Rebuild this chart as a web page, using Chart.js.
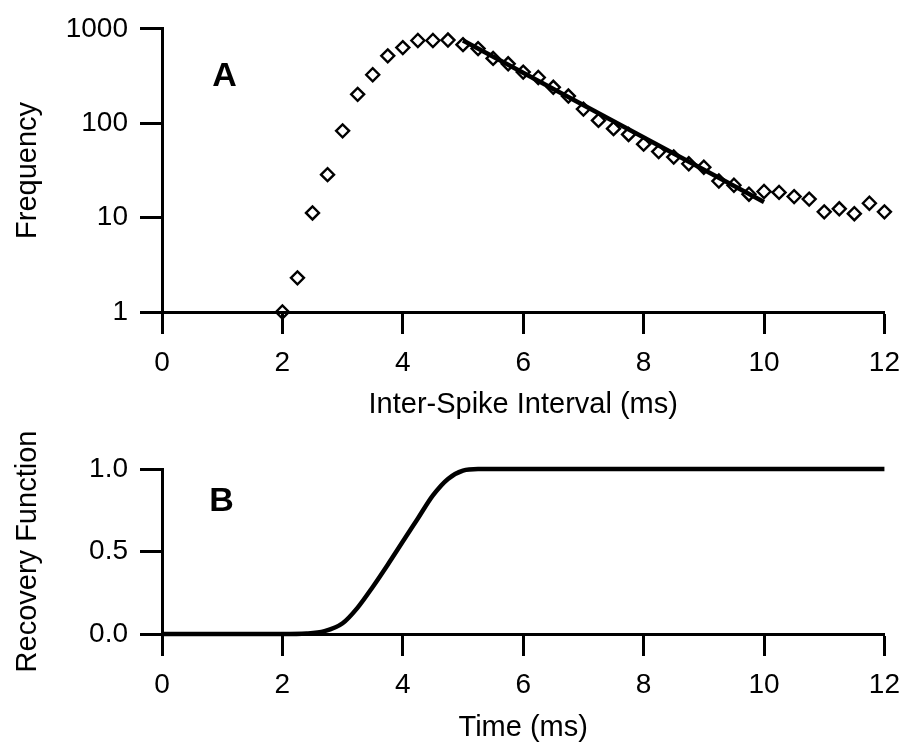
<!DOCTYPE html>
<html>
<head>
<meta charset="utf-8">
<script src="https://cdn.jsdelivr.net/npm/chart.js@4.4.1/dist/chart.umd.min.js"></script>
<style>
  html, body { margin: 0; padding: 0; background: #fff; }
  #wrap { position: relative; width: 912px; height: 745px; }
  #topChart { position: absolute; left: 0; top: 0; }
  #botChart { position: absolute; left: 0; top: 400px; }
</style>
</head>
<body>
<div id="wrap">
  <canvas id="topChart" width="912" height="440"></canvas>
  <canvas id="botChart" width="912" height="345"></canvas>
</div>
<script>
// ---- panel A : inter-spike interval histogram (log y) ----
const isiX = [2, 2.25, 2.5, 2.75, 3, 3.25, 3.5, 3.75, 4, 4.25, 4.5, 4.75, 5, 5.25, 5.5, 5.75,
  6, 6.25, 6.5, 6.75, 7, 7.25, 7.5, 7.75, 8, 8.25, 8.5, 8.75, 9, 9.25, 9.5, 9.75,
  10, 10.25, 10.5, 10.75, 11, 11.25, 11.5, 11.75, 12];
const isiFreq = [1, 2.3, 11.2, 28.5, 83, 202, 326, 517, 632, 752, 752, 760, 679, 617, 486, 426,
  348, 305, 240, 194, 141, 107, 87.5, 76, 60, 50, 43.8, 37.2, 34.2, 24.4, 22, 17.7,
  18.9, 18.5, 16.7, 15.7, 11.5, 12.4, 11, 14.2, 11.5];

// exponential fit (straight on log axis)
const fitX = [5, 10];
const fitY = [750, 14.6];

const xTicks = [0, 2, 4, 6, 8, 10, 12];
const topYTicks = [1, 10, 100, 1000];

// ---- panel B : recovery function ----
const recX = [0, 1, 2, 2.4, 2.7, 3.0, 3.25, 3.5, 3.75, 4.0, 4.25, 4.5, 4.75, 5.0, 5.25, 6, 8, 10, 12];
const recY = [0, 0, 0, 0.003, 0.017, 0.065, 0.16, 0.285, 0.42, 0.56, 0.70, 0.84, 0.94, 0.99, 1, 1, 1, 1, 1];

const botYTicks = [0, 0.5, 1];

const FONT = "'Liberation Sans', Arial, Helvetica, sans-serif";
const INK = '#000';

function toXY(xs, ys) {
  return xs.map((x, i) => ({ x: x, y: ys[i] }));
}

// common axis look: heavy black axis line, outward ticks, no grid
function axisStyle() {
  return {
    border: { display: true, color: INK, width: 3 },
    grid: { display: true, drawOnChartArea: false, drawTicks: true, tickLength: 22, tickWidth: 3, tickColor: INK },
    ticks: { color: INK, padding: 12, font: { family: FONT, size: 28 } }
  };
}

// panel letter drawn at a data position
function panelLabel(letter, xv, yv) {
  return {
    id: 'panel' + letter,
    afterDraw(chart) {
      const ctx = chart.ctx;
      ctx.save();
      ctx.fillStyle = INK;
      ctx.font = 'bold 34px ' + FONT;
      ctx.textAlign = 'center';
      ctx.textBaseline = 'middle';
      ctx.fillText(letter, chart.scales.x.getPixelForValue(xv), chart.scales.y.getPixelForValue(yv));
      ctx.restore();
    }
  };
}

/* =========================
   PANEL A
   ========================= */
const ax = axisStyle();
const ay = axisStyle();

new Chart(document.getElementById('topChart'), {
  type: 'scatter',
  data: {
    datasets: [
      {
        data: toXY(isiX, isiFreq),
        showLine: false,
        pointStyle: 'rectRot',
        pointRadius: 6.5,
        pointBorderWidth: 2.4,
        pointBorderColor: INK,
        pointBackgroundColor: 'rgba(255,255,255,0)',
        clip: false
      },
      {
        data: toXY(fitX, fitY),
        showLine: true,
        borderColor: INK,
        borderWidth: 4.5,
        pointRadius: 0
      }
    ]
  },
  options: {
    responsive: false,
    animation: false,
    layout: { padding: { top: 23, right: 23, left: 0, bottom: 0 } },
    plugins: { legend: { display: false }, tooltip: { enabled: false } },
    scales: {
      x: {
        type: 'linear', min: 0, max: 12,
        border: ax.border, grid: ax.grid,
        ticks: Object.assign({}, ax.ticks, { stepSize: 2 }),
        afterBuildTicks: s => { s.ticks = xTicks.map(v => ({ value: v })); },
        afterFit: s => { s.height = 128; },
        title: { display: true, text: 'Inter-Spike Interval (ms)', color: INK,
          font: { family: FONT, size: 29 }, padding: { top: 0, bottom: 18 } }
      },
      y: {
        type: 'logarithmic', min: 1, max: 1000,
        border: ay.border, grid: ay.grid,
        ticks: Object.assign({}, ay.ticks, { callback: v => String(v) }),
        afterBuildTicks: s => { s.ticks = topYTicks.map(v => ({ value: v })); },
        afterFit: s => { s.width = 162; },
        title: { display: true, text: 'Frequency', color: INK,
          font: { family: FONT, size: 29 }, padding: { top: 11, bottom: 0 } }
      }
    }
  },
  plugins: [panelLabel('A', 1.04, 310)]
});

/* =========================
   PANEL B
   ========================= */
const bx = axisStyle();
const by = axisStyle();

new Chart(document.getElementById('botChart'), {
  type: 'scatter',
  data: {
    datasets: [{
      data: toXY(recX, recY),
      showLine: true,
      borderColor: INK,
      borderWidth: 4.5,
      cubicInterpolationMode: 'monotone',
      pointRadius: 0,
      clip: false
    }]
  },
  options: {
    responsive: false,
    animation: false,
    layout: { padding: { top: 69, right: 23, left: 0, bottom: 0 } },
    plugins: { legend: { display: false }, tooltip: { enabled: false } },
    scales: {
      x: {
        type: 'linear', min: 0, max: 12,
        border: bx.border, grid: bx.grid,
        ticks: Object.assign({}, bx.ticks, { stepSize: 2 }),
        afterBuildTicks: s => { s.ticks = xTicks.map(v => ({ value: v })); },
        afterFit: s => { s.height = 111; },
        title: { display: true, text: 'Time (ms)', color: INK,
          font: { family: FONT, size: 29 }, padding: { top: 0, bottom: 0 } }
      },
      y: {
        type: 'linear', min: 0, max: 1,
        border: by.border, grid: by.grid,
        ticks: Object.assign({}, by.ticks, { callback: v => Number(v).toFixed(1) }),
        afterBuildTicks: s => { s.ticks = botYTicks.map(v => ({ value: v })); },
        afterFit: s => { s.width = 162; },
        title: { display: true, text: 'Recovery Function', color: INK,
          font: { family: FONT, size: 29 }, padding: { top: 11, bottom: 0 } }
      }
    }
  },
  plugins: [panelLabel('B', 0.99, 0.8)]
});
</script>
</body>
</html>
